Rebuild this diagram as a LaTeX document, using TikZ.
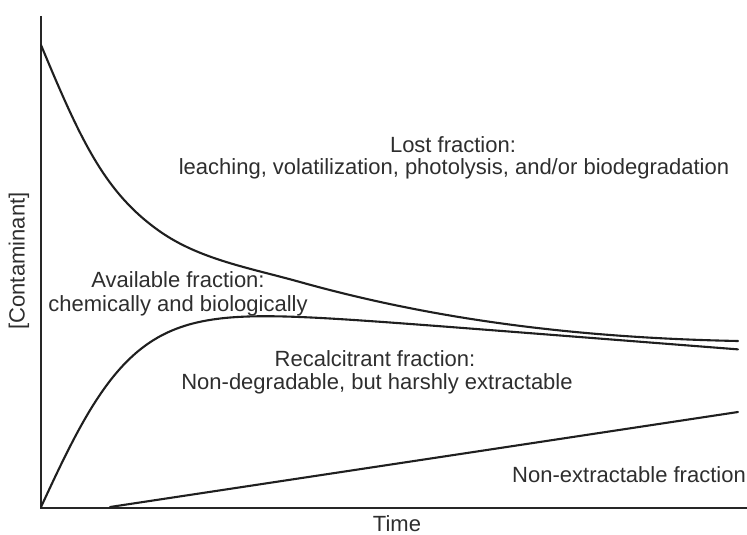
\documentclass[tikz,border=0pt]{standalone}
\usepackage{fontspec}
\setmainfont{Liberation Sans}
\begin{document}
\begin{tikzpicture}[x=1pt,y=-1pt,
  lbl/.style={anchor=base, inner sep=0pt, text=black!82, font=\fontsize{22}{24}\selectfont},
  axisline/.style={line width=2.8pt, black!85},
  curve/.style={line width=2.1pt, black!88, line join=round, line cap=round}]
\useasboundingbox (0,0) rectangle (747,535);
% axes
\coordinate (top) at (41,16);
\coordinate (origin) at (41,508);
\coordinate (xend) at (747,508);
\draw[axisline] (top) -- (origin) -- (xend);
% decay curve (lost fraction)
\coordinate (d0) at (41,45);
\coordinate (d1) at (160,231.5);
\coordinate (d2) at (300,282);
\coordinate (d3) at (738,341);
\draw[curve] (d0) .. controls (81,141) and (105,193) .. (d1)
  .. controls (200,259.5) and (250,268) .. (d2)
  .. controls (446,322.9) and (592,338.1) .. (d3);
% available curve
\draw[curve] plot[domain=41:738, samples=160, smooth] (\x, {507 - 212*tanh((\x-41)/95) + 0.078*(\x-41)});
% non-extractable line
\coordinate (ne0) at (110,507);
\coordinate (ne1) at (738,412);
\draw[curve] (ne0) -- (ne1);
% labels
\node[lbl] (lost1) at (453,152) {Lost fraction:};
\node[lbl] (lost2) at (454,174) {leaching, volatilization, photolysis, and/or biodegradation};
\node[lbl] (av1) at (178,287) {Available fraction:};
\node[lbl] (av2) at (178,311) {chemically and biologically};
\node[lbl] (rc1) at (375,366) {Recalcitrant fraction:};
\node[lbl] (rc2) at (377,389) {Non-degradable, but harshly extractable};
\node[lbl] (nef) at (629,482) {Non-extractable fraction};
\node[lbl] (time) at (397,531) {Time};
\node[lbl, anchor=center, rotate=90] (ylab) at (19,261) {[Contaminant]};
\end{tikzpicture}
\end{document}
